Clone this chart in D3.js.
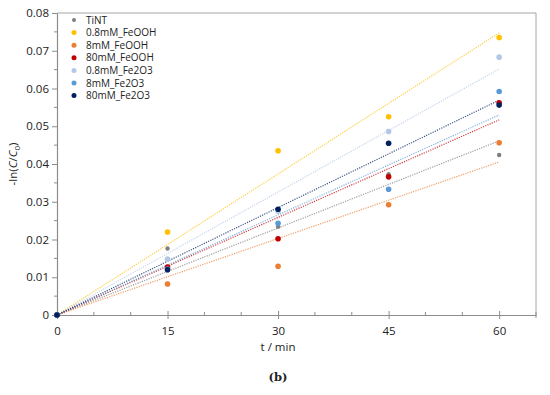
<!DOCTYPE html>
<html><head><meta charset="utf-8">
<script src="https://cdn.jsdelivr.net/npm/d3@7"></script>
<style>body{margin:0;background:#fff;} svg{display:block;font-family:"Open Sans","Liberation Sans",sans-serif;}</style>
</head><body>
<svg id="c" width="550" height="395"></svg>
<script>
const times = [0, 15, 30, 45, 60];
const seriesNames = ["TiNT","0.8mM_FeOOH","8mM_FeOOH","80mM_FeOOH","0.8mM_Fe2O3","8mM_Fe2O3","80mM_Fe2O3"];
const seriesColors = ["#7f7f7f","#ffc000","#ed7d31","#c00000","#b4c7e7","#5b9bd5","#002060"];
const tint        = [0, 0.0176, 0.0234, 0.0373, 0.0424];
const feooh08     = [0, 0.0220, 0.0435, 0.0525, 0.0735];
const feooh8      = [0, 0.0082, 0.0129, 0.0292, 0.0456];
const feooh80     = [0, 0.0127, 0.0202, 0.0366, 0.0562];
const fe2o3_08    = [0, 0.0148, 0.0275, 0.0486, 0.0683];
const fe2o3_8     = [0, 0.0122, 0.0243, 0.0333, 0.0592];
const fe2o3_80    = [0, 0.0120, 0.0280, 0.0455, 0.0556];
const seriesValues = [tint, feooh08, feooh8, feooh80, fe2o3_08, fe2o3_8, fe2o3_80];
const xTicks = [0, 15, 30, 45, 60];
const yTicks = [0, 0.01, 0.02, 0.03, 0.04, 0.05, 0.06, 0.07, 0.08];

const svg = d3.select("#c");
const L = 57, R = 536, T = 13, B = 315;
const x = d3.scaleLinear().domain([0, 65]).range([L, R]);
const y = d3.scaleLinear().domain([0, 0.08]).range([B, T]);

// frame (top & right)
svg.append("path").attr("d", `M${L},${T}H${R}V${B}`).attr("fill","none").attr("stroke","#a6a6a6").attr("stroke-width",1);

// minor ticks
const axCol = "#8c8c8c";
const xMinor = d3.range(0, 66, 5).filter(v => v % 15 !== 0);
svg.append("g").selectAll("line").data(xMinor).join("line")
  .attr("x1", d => x(d)).attr("x2", d => x(d)).attr("y1", B - 3).attr("y2", B)
  .attr("stroke", axCol);
const yMinor = d3.range(0.005, 0.08, 0.01);
svg.append("g").selectAll("line").data(yMinor).join("line")
  .attr("x1", L - 3).attr("x2", L).attr("y1", d => y(d)).attr("y2", d => y(d))
  .attr("stroke", axCol);

// axes
const xAxis = svg.append("g").attr("transform", `translate(0,${B})`)
  .call(d3.axisBottom(x).tickValues(xTicks).tickSize(4).tickSizeOuter(0).tickPadding(8));
xAxis.selectAll(".tick line").attr("y1", -4);
const yAxis = svg.append("g").attr("transform", `translate(${L},0)`)
  .call(d3.axisLeft(y).tickValues(yTicks).tickSize(5).tickSizeOuter(0).tickPadding(3)
    .tickFormat(d => d === 0 ? "0" : d3.format(".2f")(d)));
[xAxis, yAxis].forEach(g => {
  g.select(".domain").attr("stroke", axCol).attr("stroke-width", 1.2);
  g.selectAll(".tick line").attr("stroke", axCol);
  g.selectAll("text").attr("fill", "#222").attr("font-size", 11.5)
    .attr("font-family", '"Open Sans","Liberation Sans",sans-serif');
});
svg.append("line").attr("x1", R).attr("x2", R).attr("y1", B).attr("y2", B + 3).attr("stroke", axCol);

// trend lines (least squares through origin)
const lineG = svg.append("g");
seriesValues.forEach((vals, i) => {
  let sxy = 0, sxx = 0;
  vals.forEach((v, k) => { sxy += times[k] * v; sxx += times[k] * times[k]; });
  const k = sxy / sxx;
  lineG.append("line")
    .attr("x1", x(0)).attr("y1", y(0)).attr("x2", x(60)).attr("y2", y(k * 60))
    .attr("stroke", seriesColors[i]).attr("stroke-width", 1.2)
    .attr("stroke-dasharray", "1.2,1.2").attr("opacity", 0.75);
});

// points
const ptG = svg.append("g");
seriesValues.forEach((vals, i) => {
  ptG.selectAll(null).data(vals).join("circle")
    .attr("cx", (d, k) => x(times[k])).attr("cy", d => y(d))
    .attr("r", i === 0 ? 2.2 : 2.8).attr("fill", seriesColors[i]);
});

// legend
const leg = svg.append("g");
seriesNames.forEach((n, i) => {
  const yy = 20 + i * 12.6;
  leg.append("circle").attr("cx", 74).attr("cy", yy).attr("r", i === 0 ? 2 : 2.5).attr("fill", seriesColors[i]);
  leg.append("text").attr("x", 86).attr("y", yy + 3.5).attr("font-size", 10).attr("fill", "#222").text(n);
});

// axis titles
svg.append("text").attr("x", 278).attr("y", 351).attr("text-anchor", "middle")
  .attr("font-size", 11.5).attr("fill", "#222").text("t / min");
const yl = svg.append("text").attr("transform", "translate(17,164) rotate(-90)")
  .attr("text-anchor", "middle").attr("font-size", 11.5).attr("fill", "#222");
yl.append("tspan").text("-ln(");
yl.append("tspan").attr("font-style", "italic").text("C");
yl.append("tspan").text("/");
yl.append("tspan").attr("font-style", "italic").text("C");
yl.append("tspan").attr("font-size", 8).attr("dy", 3).text("0");
yl.append("tspan").attr("dy", -3).text(")");

svg.append("text").attr("x", 278).attr("y", 381).attr("text-anchor", "middle")
  .attr("font-family", '"DejaVu Serif","Liberation Serif",serif').attr("font-weight", "bold")
  .attr("font-size", 11.5).attr("fill", "#222").text("(b)");
</script>
</body></html>
